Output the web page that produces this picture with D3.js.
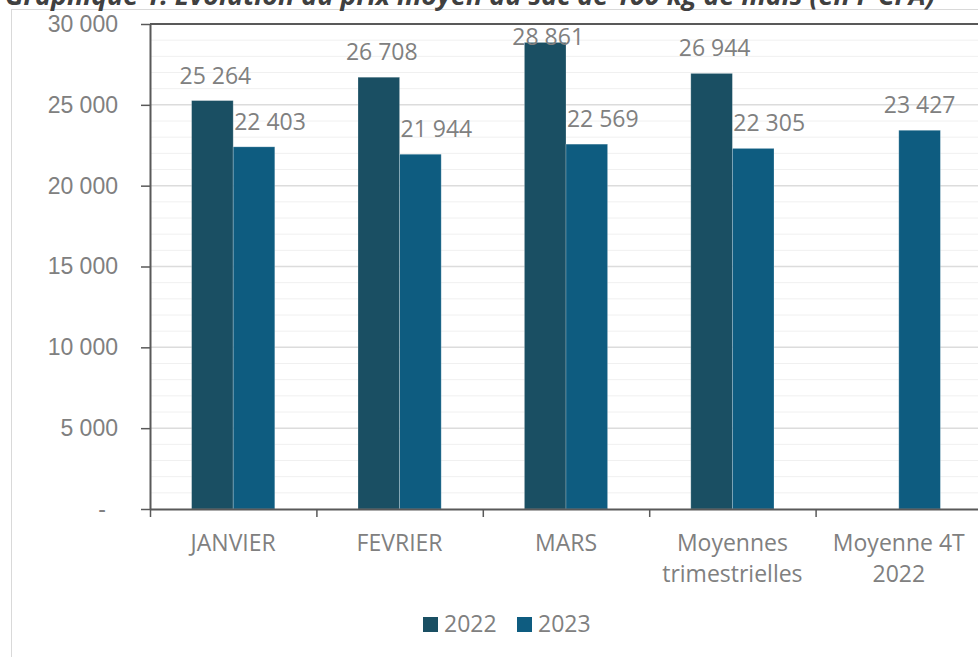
<!DOCTYPE html>
<html>
<head>
<meta charset="utf-8">
<script src="https://cdn.jsdelivr.net/npm/d3@7"></script>
<style>
  body { margin: 0; background: #fff; }
  svg { display: block; font-family: "Open Sans", sans-serif; }
  .lbl { fill: #808080; font-size: 23px; }
</style>
</head>
<body>
<svg id="chart" width="978" height="657"></svg>
<script>
// chart data
var title = 'Graphique 1: Evolution du prix moyen du sac de 100 kg de maïs (en F CFA)'
var categories = ['JANVIER', 'FEVRIER', 'MARS', 'Moyennes trimestrielles', 'Moyenne 4T 2022']
var categoryLines = [['JANVIER'], ['FEVRIER'], ['MARS'], ['Moyennes', 'trimestrielles'], ['Moyenne 4T', '2022']]
var seriesNames = ['2022', '2023']
var values2022 = [25264, 26708, 28861, 26944, null]
var values2023 = [22403, 21944, 22569, 22305, 23427]
var yTicks = [0, 5000, 10000, 15000, 20000, 25000, 30000]
var colors = ['#1a4f63', '#0e5c80']

var svg = d3.select('#chart')
var plot = {left: 150, right: 982, top: 24, bottom: 509}

var locale = d3.formatLocale({decimal: ',', thousands: ' ', grouping: [3], currency: ['', '']})
var fmt = locale.format(',d')

var x = d3.scaleBand().domain(categories).range([plot.left, plot.right])
var xs = d3.scaleBand().domain(seriesNames).range([x.bandwidth() * 0.25, x.bandwidth() * 0.75])
var y = d3.scaleLinear().domain([0, 30000]).range([plot.bottom, plot.top])
var color = d3.scaleOrdinal().domain(seriesNames).range(colors)

// outer chart frame
svg.append('rect')
  .attr('x', 11.5).attr('y', 9.5).attr('width', 1000).attr('height', 700)
  .attr('fill', 'none').attr('stroke', '#d9d9d9')

// title, cut at the top like the source
var t = svg.append('text')
  .attr('x', 5).attr('y', 5)
  .attr('font-weight', 'bold').attr('font-style', 'italic')
  .attr('fill', '#404040').attr('font-size', 20)
  .text(title)
var tw = t.node().getComputedTextLength()
t.attr('font-size', 20 * 930 / tw)

// gridlines
var minor = d3.range(1000, 30000, 1000).filter(function (d) { return d % 5000 != 0 })
svg.append('g').selectAll('line').data(minor).enter().append('line')
  .attr('x1', plot.left).attr('x2', plot.right)
  .attr('y1', function (d) { return y(d) }).attr('y2', function (d) { return y(d) })
  .attr('stroke', '#f0f0f0').attr('stroke-width', 1)

svg.append('g').selectAll('line').data(yTicks.slice(1, -1)).enter().append('line')
  .attr('x1', plot.left).attr('x2', plot.right)
  .attr('y1', function (d) { return y(d) }).attr('y2', function (d) { return y(d) })
  .attr('stroke', '#dcdcdc').attr('stroke-width', 1.5)

// top line of the plot area
svg.append('line')
  .attr('x1', plot.left).attr('x2', plot.right)
  .attr('y1', y(30000)).attr('y2', y(30000))
  .attr('stroke', '#595959').attr('stroke-width', 2)

// bars
var rows = categories.map(function (c, i) {
  return {cat: c, values: [{s: '2022', v: values2022[i], other: values2023[i]}, {s: '2023', v: values2023[i], other: values2022[i]}]}
})

var groups = svg.append('g').selectAll('g').data(rows).enter().append('g')
  .attr('transform', function (d) { return 'translate(' + x(d.cat) + ',0)' })

groups.selectAll('rect')
  .data(function (d) { return d.values.filter(function (e) { return e.v != null }) })
  .enter().append('rect')
  .attr('x', function (d) { return xs(d.s) })
  .attr('width', xs.bandwidth())
  .attr('y', function (d) { return y(d.v) })
  .attr('height', function (d) { return y(0) - y(d.v) })
  .attr('fill', function (d) { return color(d.s) })
  .attr('stroke', 'rgba(255,255,255,0.3)').attr('stroke-width', 0.8)

// data labels
groups.selectAll('text')
  .data(function (d) { return d.values.filter(function (e) { return e.v != null }) })
  .enter().append('text')
  .attr('class', 'lbl')
  .attr('text-anchor', 'middle')
  .attr('x', function (d) {
    var dx = 3
    if (d.s == '2023') dx = (d.other != null) ? 16 : 0
    return xs(d.s) + xs.bandwidth() / 2 + dx
  })
  .attr('y', function (d) { return Math.max(y(d.v) - 17, 45) })
  .text(function (d) { return fmt(d.v) })

// y axis
var yAxis = svg.append('g')
  .attr('transform', 'translate(' + plot.left + ',0)')
  .call(d3.axisLeft(y).tickValues(yTicks).tickSize(9).tickSizeOuter(0).tickPadding(23)
    .tickFormat(function (d) { return d == 0 ? '-' : fmt(d) }))
yAxis.select('.domain').attr('stroke', '#595959').attr('stroke-width', 2)
yAxis.selectAll('.tick line').attr('stroke', '#595959').attr('stroke-width', 1.5)
yAxis.selectAll('.tick text').attr('class', 'lbl').attr('font-family', null).attr('font-size', null)
yAxis.selectAll('.tick text').filter(function (d) { return d == 0 }).attr('x', -44)

// x axis, ticks between categories
var xEdges = d3.scaleLinear().domain([0, categories.length]).range([plot.left, plot.right])
var xAxis = svg.append('g')
  .attr('transform', 'translate(0,' + plot.bottom + ')')
  .call(d3.axisBottom(xEdges).ticks(categories.length).tickSize(8).tickSizeOuter(0).tickFormat(''))
xAxis.select('.domain').attr('stroke', '#595959').attr('stroke-width', 2)
xAxis.selectAll('.tick line').attr('stroke', '#595959').attr('stroke-width', 1.5)

// category labels
svg.append('g').selectAll('text').data(categories).enter().append('text')
  .attr('class', 'lbl')
  .attr('text-anchor', 'middle')
  .attr('x', function (d) { return x(d) + x.bandwidth() / 2 })
  .attr('y', 551)
  .each(function (d, i) {
    var el = d3.select(this)
    categoryLines[i].forEach(function (line, j) {
      el.append('tspan')
        .attr('x', x(d) + x.bandwidth() / 2)
        .attr('dy', j == 0 ? 0 : 31)
        .text(line)
    })
  })

// legend
var legend = svg.append('g').selectAll('g').data(seriesNames).enter().append('g')
  .attr('transform', function (d, i) { return 'translate(' + (423 + i * 94) + ',617)' })
legend.append('rect')
  .attr('width', 15).attr('height', 15)
  .attr('fill', function (d) { return color(d) })
legend.append('text')
  .attr('class', 'lbl')
  .attr('x', 21).attr('y', 15)
  .text(function (d) { return d })
</script>
</body>
</html>
